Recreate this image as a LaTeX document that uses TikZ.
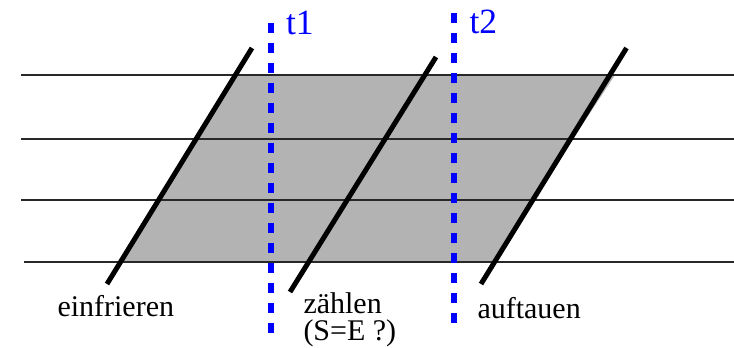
\documentclass[tikz,border=0pt]{standalone}
\usepackage{fontspec}
\setmainfont{Liberation Serif}
\usetikzlibrary{positioning}
\definecolor{TimeBlue}{RGB}{0,0,255}
\definecolor{FillGray}{RGB}{179,179,179}
\definecolor{TrackGray}{RGB}{40,40,40}

\begin{document}
\begin{tikzpicture}[x=0.4pt,y=-0.4pt,
    track/.style={line width=0.5pt, TrackGray},
    phase/.style={line width=2pt, black},
    cut/.style={line width=2.1pt, TimeBlue, dash pattern=on 3.8pt off 4.2pt},
    lbl/.style={inner sep=0pt, anchor=base west, font=\rmfamily\fontsize{12}{10.8}\selectfont},
    tlbl/.style={lbl, TimeBlue, font=\rmfamily\fontsize{14.2}{16}\selectfont}]
  \useasboundingbox (0,0) rectangle (734,347);

  % shaded area between the lines
  \fill[FillGray] (235.4,75) -- (615,75) -- (492,262) -- (120.5,262) -- cycle;
  \foreach \y/\s in {75/21,139/21,200/21,262/24}
    \draw[track] (\s,\y) -- (734,\y);

  \foreach \n/\xa/\ya/\xb/\yb in {ein/252/48/107/284,zae/436/57/290/292,auf/626.5/48/481/284}
  {
    \coordinate (\n-top) at (\xa,\ya);
    \coordinate (\n-bot) at (\xb,\yb);
    \draw[phase] (\n-top) -- (\n-bot);
  }

  % cut times
  \coordinate (t1-top) at (271,23);
  \coordinate (t1-bot) at (271,340);
  \coordinate (t2-top) at (454,13);
  \coordinate (t2-bot) at (454,332);
  \draw[cut] (t1-top) -- (t1-bot);
  \draw[cut] (t2-top) -- (t2-bot);
  \node[tlbl] (t1) at (285.5,34.5) {t1};
  \node[tlbl] (t2) at (469,33.5) {t2};

  % base of the two-line node is its last line
  \node[lbl] (einfrieren) at (57,316.7) {einfrieren};
  \node[lbl, align=left] (zaehlen) at (303,340) {zählen\\(S=E ?)};
  \node[lbl] (auftauen) at (477,318) {auftauen};
\end{tikzpicture}
\end{document}
